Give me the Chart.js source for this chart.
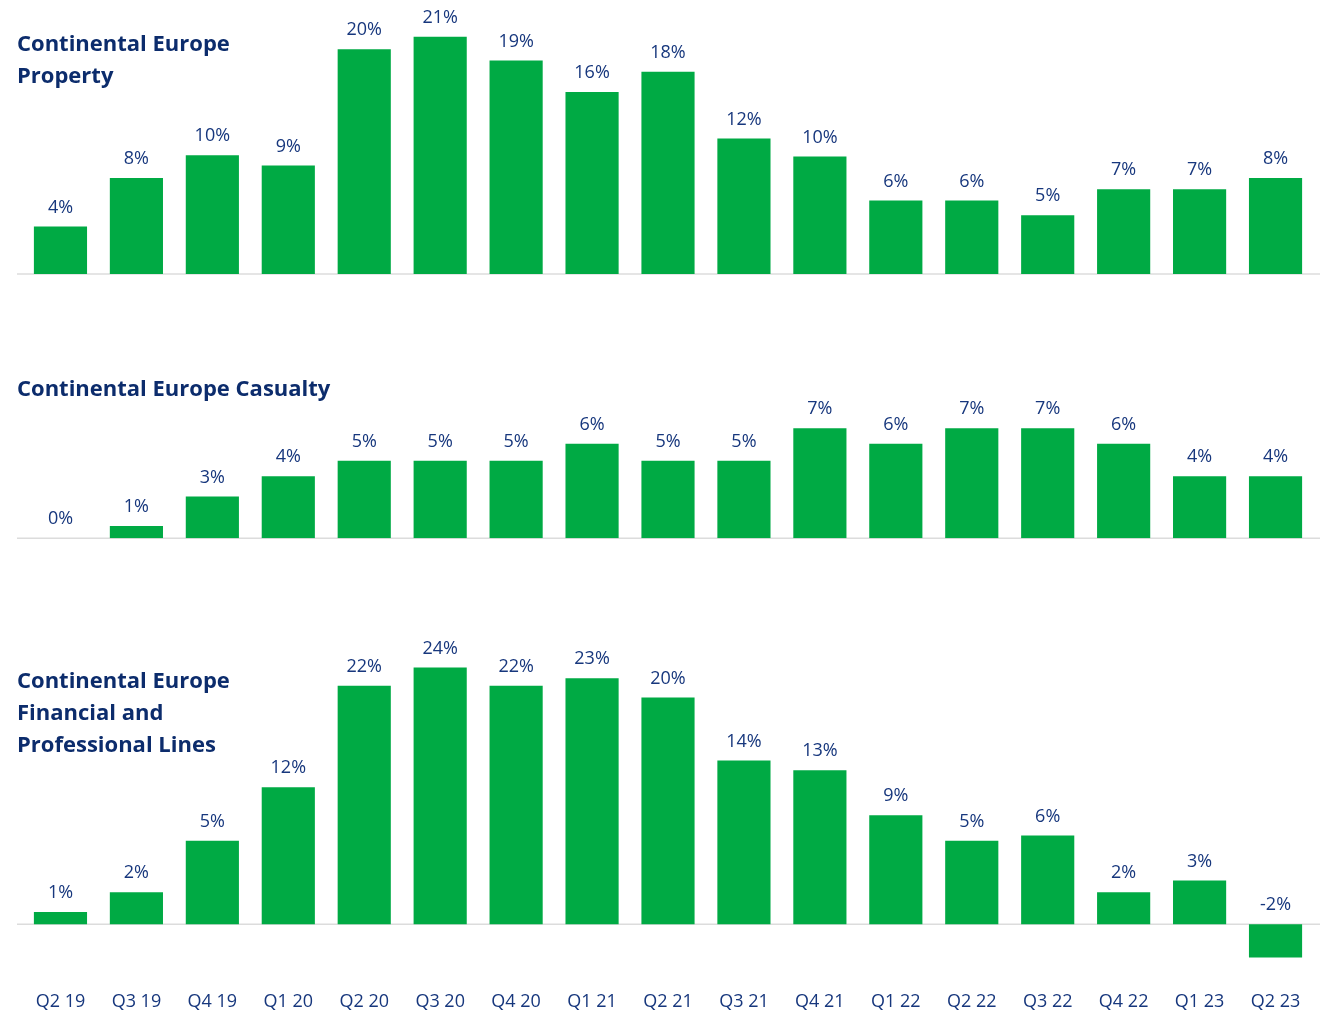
<!DOCTYPE html>
<html>
<head>
<meta charset="utf-8">
<script src="https://cdn.jsdelivr.net/npm/chart.js@4.4.0/dist/chart.umd.min.js"></script>
<style>
  html, body { margin:0; padding:0; background:#fff; }
  body { width:1332px; height:1012px; position:relative; overflow:hidden; font-family:'Open Sans', sans-serif; }
  .panel { position:absolute; left:0; width:1332px; }
  .title { position:absolute; left:17px; font-family:'Open Sans', sans-serif; font-weight:700; font-size:22px; line-height:32px; color:#0c2c6c; z-index:2; }
</style>
</head>
<body>
<div class="title" style="top:26px;">Continental Europe<br>Property</div>
<div class="title" style="top:371px;">Continental Europe Casualty</div>
<div class="title" style="top:663px;">Continental Europe<br>Financial and<br>Professional Lines</div>

<div class="panel" style="top:0px;height:290px;"><canvas id="c1"></canvas></div>
<div class="panel" style="top:300px;height:260px;"><canvas id="c2"></canvas></div>
<div class="panel" style="top:600px;height:412px;"><canvas id="c3"></canvas></div>

<script>
const categories = ['Q2 19','Q3 19','Q4 19','Q1 20','Q2 20','Q3 20','Q4 20','Q1 21','Q2 21','Q3 21','Q4 21','Q1 22','Q2 22','Q3 22','Q4 22','Q1 23','Q2 23'];

const propertyValues = [4.2, 8.5, 10.5, 9.6, 19.9, 21.0, 18.9, 16.1, 17.9, 12.0, 10.4, 6.5, 6.5, 5.2, 7.5, 7.5, 8.5];
const propertyLabels = ['4%','8%','10%','9%','20%','21%','19%','16%','18%','12%','10%','6%','6%','5%','7%','7%','8%'];

const casualtyValues = [0, 0.8, 2.7, 4.0, 5.0, 5.0, 5.0, 6.1, 5.0, 5.0, 7.1, 6.1, 7.1, 7.1, 6.1, 4.0, 4.0];
const casualtyLabels = ['0%','1%','3%','4%','5%','5%','5%','6%','5%','5%','7%','6%','7%','7%','6%','4%','4%'];

const fplValues = [1.15, 3.0, 7.8, 12.8, 22.3, 24.0, 22.3, 23.0, 21.2, 15.3, 14.4, 10.2, 7.8, 8.3, 3.0, 4.1, -3.1];
const fplLabels = ['1%','2%','5%','12%','22%','24%','22%','23%','20%','14%','13%','9%','5%','6%','2%','3%','-2%'];

const GREEN = '#00aa44';
const LABEL_COLOR = '#17377d';

const zeroLinePlugin = {
  id: 'zeroLine',
  beforeDatasetsDraw(chart) {
    const y = chart.scales.y.getPixelForValue(0);
    const ctx = chart.ctx;
    ctx.save();
    ctx.strokeStyle = '#dcdcdc';
    ctx.lineWidth = 1.5;
    ctx.beginPath();
    ctx.moveTo(17, y);
    ctx.lineTo(1320, y);
    ctx.stroke();
    ctx.restore();
  }
};

const valueLabelPlugin = {
  id: 'valueLabels',
  afterDatasetsDraw(chart, args, opts) {
    const ctx = chart.ctx;
    const meta = chart.getDatasetMeta(0);
    const labels = opts.labels;
    const y0 = chart.scales.y.getPixelForValue(0);
    ctx.save();
    ctx.font = '18px "Open Sans"';
    ctx.fillStyle = LABEL_COLOR;
    ctx.textAlign = 'center';
    ctx.textBaseline = 'middle';
    meta.data.forEach((bar, i) => {
      const top = Math.min(bar.y, y0);
      ctx.fillText(labels[i], bar.x, top - 19);
    });
    ctx.restore();
  }
};

function makeChart(id, values, labels, yMin, yMax, padBottom, showX) {
  return new Chart(document.getElementById(id), {
    type: 'bar',
    data: {
      labels: categories,
      datasets: [{ data: values, backgroundColor: GREEN, borderWidth: 0, barPercentage: 0.7, categoryPercentage: 1.0 }]
    },
    options: {
      responsive: true,
      maintainAspectRatio: false,
      animation: false,
      layout: { padding: { left: 22.5, right: 18.5, top: 0, bottom: padBottom } },
      plugins: { legend: { display: false }, tooltip: { enabled: false }, title: { display: false }, valueLabels: { labels: labels } },
      scales: {
        x: {
          display: showX,
          grid: { display: false, drawTicks: false, tickLength: 0 },
          border: { display: false },
          ticks: { color: LABEL_COLOR, font: { family: 'Open Sans', size: 18 }, padding: 21, maxRotation: 0, autoSkip: false },
          afterFit: (scale) => { if (showX) scale.height = 42; }
        },
        y: { display: false, min: yMin, max: yMax }
      }
    },
    plugins: [zeroLinePlugin, valueLabelPlugin]
  });
}

makeChart('c1', propertyValues, propertyLabels, 0, 24.25, 16, false);
makeChart('c2', casualtyValues, casualtyLabels, 0, 15.374, 21.7, false);
makeChart('c3', fplValues, fplLabels, -4.271, 30.31, 0, true);
</script>
</body>
</html>
